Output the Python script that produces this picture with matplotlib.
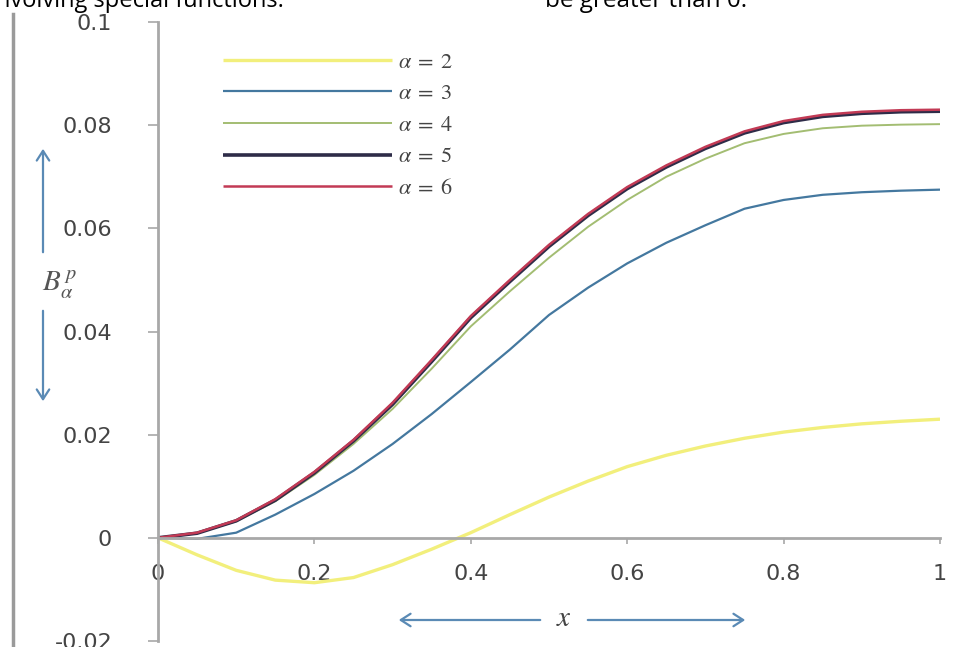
import numpy as np
import matplotlib
matplotlib.use("Agg")
import matplotlib.pyplot as plt
from matplotlib.lines import Line2D
from matplotlib.patches import FancyArrowPatch

plt.rcParams['mathtext.fontset'] = 'stix'

# values, x step 0.05
x_vals = [0, 0.05, 0.1, 0.15, 0.2, 0.25, 0.3, 0.35, 0.4, 0.45, 0.5,
          0.55, 0.6, 0.65, 0.7, 0.75, 0.8, 0.85, 0.9, 0.95, 1.0]
b_a2 = [0, -0.0033, -0.0063, -0.0082, -0.0087, -0.0077, -0.0052, -0.0022, 0.0010, 0.0045, 0.0079,
        0.0110, 0.0138, 0.0160, 0.0178, 0.0193, 0.0205, 0.0214, 0.0221, 0.0226, 0.0230]
b_a3 = [0, -0.0002, 0.0010, 0.0045, 0.0085, 0.0130, 0.0182, 0.0240, 0.0302, 0.0365, 0.0432,
        0.0485, 0.0532, 0.0572, 0.0606, 0.0638, 0.0655, 0.0665, 0.0670, 0.0673, 0.0675]
b_a4 = [0, 0.0009, 0.0032, 0.0071, 0.0122, 0.0182, 0.0250, 0.0328, 0.0410, 0.0478, 0.0543,
        0.0603, 0.0655, 0.0700, 0.0735, 0.0765, 0.0783, 0.0794, 0.0799, 0.0801, 0.0802]
b_a5 = [0, 0.0009, 0.0033, 0.0073, 0.0126, 0.0188, 0.0259, 0.0342, 0.0427, 0.0497, 0.0565,
        0.0625, 0.0677, 0.0719, 0.0755, 0.0785, 0.0805, 0.0817, 0.0823, 0.0826, 0.0827]
b_a6 = [0, 0.0010, 0.0034, 0.0075, 0.0128, 0.0190, 0.0262, 0.0345, 0.0430, 0.0500, 0.0568,
        0.0628, 0.0680, 0.0722, 0.0758, 0.0788, 0.0808, 0.0820, 0.0826, 0.0829, 0.0830]

series = [b_a2, b_a3, b_a4, b_a5, b_a6]
labels = [r'$\alpha\;=\;2$', r'$\alpha\;=\;3$', r'$\alpha\;=\;4$', r'$\alpha\;=\;5$', r'$\alpha\;=\;6$']
colors = ['#f2ef7c', '#44789f', '#a3bd72', '#2e2c48', '#c23a55']
widths = [2.4, 1.6, 1.4, 2.6, 1.8]

x_ticks = [0, 0.2, 0.4, 0.6, 0.8, 1]
x_ticklabels = ['0', '0.2', '0.4', '0.6', '0.8', '1']
y_ticks = [-0.02, 0, 0.02, 0.04, 0.06, 0.08, 0.1]
y_ticklabels = ['-0.02', '0', '0.02', '0.04', '0.06', '0.08', '0.1']

W, H = 965, 647
fig = plt.figure(figsize=(W / 100, H / 100), dpi=100)
ax = fig.add_axes([158 / W, 6 / H, 782 / W, 619 / H])

for yv, lab, c, lw in zip(series, labels, colors, widths):
    ax.plot(x_vals, yv, color=c, lw=lw, label=lab, solid_capstyle='butt')

ax.set_xlim(0, 1)
ax.set_ylim(-0.02, 0.1)
ax.set_xticks(x_ticks)
ax.set_xticklabels(x_ticklabels)
ax.set_yticks(y_ticks)
ax.set_yticklabels(y_ticklabels)

gray = '#a8a8a8'
ax.spines['top'].set_visible(False)
ax.spines['right'].set_visible(False)
ax.spines['bottom'].set_position(('data', 0))
ax.spines['left'].set_color(gray)
ax.spines['bottom'].set_color(gray)
ax.spines['left'].set_linewidth(2)
ax.spines['bottom'].set_linewidth(2)
ax.tick_params(axis='y', direction='out', length=7, width=1.2, color=gray,
               labelsize=16, labelcolor='#444444', pad=26)
ax.tick_params(axis='x', direction='out', length=4, width=1.2, color=gray,
               labelsize=16, labelcolor='#444444', pad=15)
ax.patch.set_visible(False)

leg = ax.legend(loc='upper left', bbox_to_anchor=(0.083, 0.952), frameon=False,
                prop={'size': 16}, handlelength=7.6, handletextpad=0.3,
                labelspacing=0.52, borderpad=0, borderaxespad=0)
for t in leg.get_texts():
    t.set_color('#444444')

# y label with arrows
arrow_c = '#5a8ab5'
astyle = '->,head_length=7,head_width=4.5'
fig.text(60 / W, 1 - 284 / H, r'$B_{\alpha}^{\,p}$', fontsize=21, color='#555555',
         ha='center', va='center')
fig.add_artist(FancyArrowPatch((43 / W, 1 - 255 / H), (43 / W, 1 - 146 / H),
               transform=fig.transFigure, arrowstyle=astyle, color=arrow_c, lw=1.6))
fig.add_artist(FancyArrowPatch((43 / W, 1 - 308 / H), (43 / W, 1 - 404 / H),
               transform=fig.transFigure, arrowstyle=astyle, color=arrow_c, lw=1.6))

# x label with arrows
fig.text(564 / W, 1 - 618 / H, r'$x$', fontsize=21, color='#444444', ha='center', va='center')
fig.add_artist(FancyArrowPatch((543 / W, 1 - 620 / H), (396 / W, 1 - 620 / H),
               transform=fig.transFigure, arrowstyle=astyle, color=arrow_c, lw=1.6))
fig.add_artist(FancyArrowPatch((585 / W, 1 - 620 / H), (748 / W, 1 - 620 / H),
               transform=fig.transFigure, arrowstyle=astyle, color=arrow_c, lw=1.6))

# page leftovers around the picture
fig.add_artist(Line2D([13 / W, 13 / W], [0, 1 - 14 / H], transform=fig.transFigure,
                      color='#9a9a9a', lw=2.5))
fig.text(-4 / W, 1 - 7 / H, 'nvolving special functions.', fontsize=17, family='Open Sans',
         color='black', ha='left', va='baseline')
fig.text(545 / W, 1 - 7 / H, 'be greater than 0.', fontsize=17.5, family='Open Sans',
         color='black', ha='left', va='baseline')

fig.savefig('out.png', dpi=100)
